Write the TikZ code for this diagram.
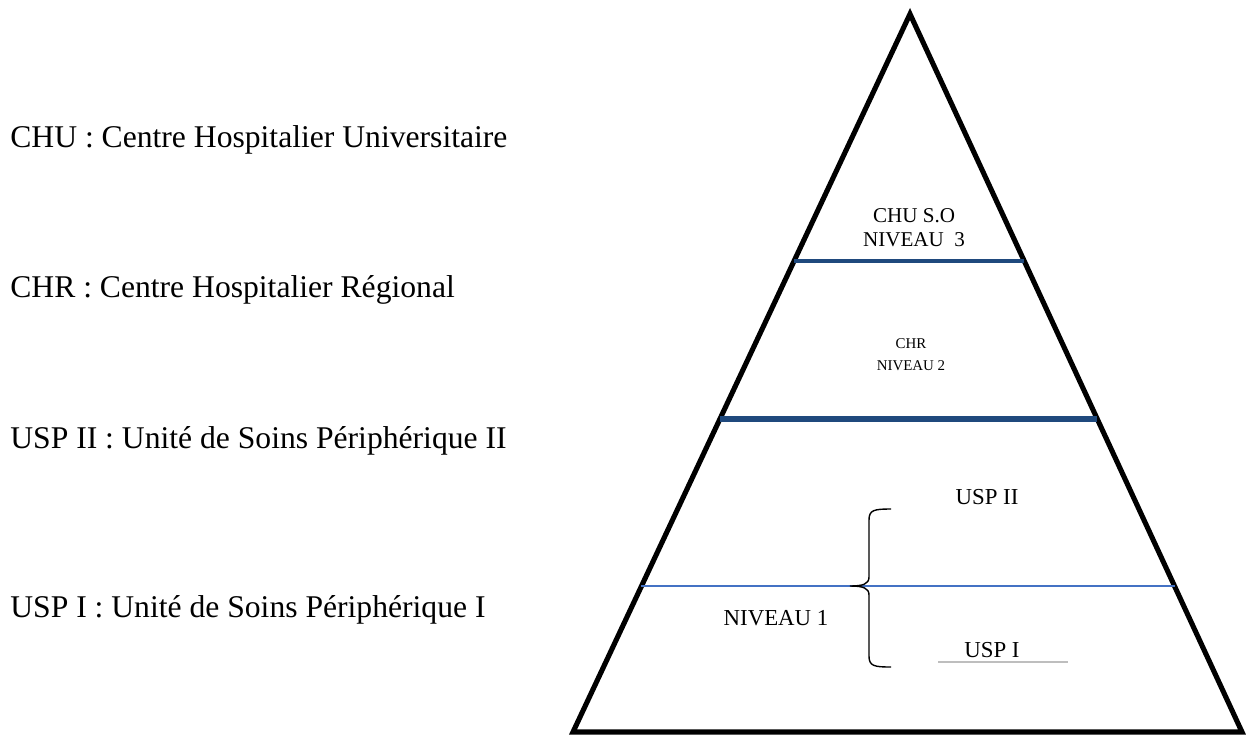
\documentclass[tikz,border=0pt]{standalone}
\usepackage{fontspec}
\setmainfont{Liberation Serif}
\usetikzlibrary{calc}
\definecolor{lvDarkBlue}{RGB}{31,73,125}
\definecolor{lvBlue}{RGB}{68,114,196}
\definecolor{lvGrey}{RGB}{190,190,190}
\tikzset{
    legend/.style={right,inner sep=0pt,font=\fontsize{18}{20}\selectfont},
    tag/.style={align=center,inner sep=0pt,font=\fontsize{13}{15}\selectfont},
    layer/.style={line width=2.8pt,color=lvDarkBlue},
    rim/.style={line width=2.9pt,line join=miter}
}
\newcommand{\NIV}[1]{NIVEAU #1}

\begin{document}
\begin{tikzpicture}[x=0.02cm,y=-0.02cm]
    \useasboundingbox (0,0) rectangle (1248,735);

    % legend on the left
    \node[legend] (chu) at (10,140) {CHU : Centre Hospitalier Universitaire};
    \node[legend] (chr) at (10,290) {CHR : Centre Hospitalier Régional};
    \node[legend] (uspb) at (10,441) {USP II : Unité de Soins Périphérique II};
    \node[legend] (uspa) at (10,610) {USP I : Unité de Soins Périphérique I};

    % the pyramid
    \coordinate (apex) at (910,14);
    \coordinate (baseL) at (573,732);
    \coordinate (baseR) at (1242,732);
    \draw[rim] (apex) -- (baseL) -- (baseR) -- cycle;

    \draw[layer] ($(apex)!0.344!(baseL)$) -- ($(apex)!0.344!(baseR)$);
    \draw[layer,line width=3pt] ($(apex)!0.564!(baseL)$) -- ($(apex)!0.564!(baseR)$);
    \draw[lvBlue,line width=0.9pt] ($(apex)!0.797!(baseL)$) -- ($(apex)!0.797!(baseR)$);

    \node[tag,font=\fontsize{12}{13.8}\selectfont] (lvlc) at (914,228) {CHU S.O\\\NIV{\ 3}};
    \node[tag,font=\fontsize{8.5}{12.5}\selectfont] (lvlb) at (911,355) {CHR\\\NIV{2}};

    \node[tag] (uspII) at (987,497) {USP II};
    \node[tag] (lvla) at (776,618) {\NIV{1}};
    \node[tag] (uspI) at (992,650) {USP I};

    % brace over level 1
    \draw[line width=0.8pt] (891,509) .. controls (874,509) and (869,510) .. (869,520)
        -- (869,577) .. controls (869,584) and (863,586) .. (850,586)
        .. controls (863,586) and (869,588) .. (869,595)
        -- (869,656) .. controls (869,666) and (874,667) .. (891,667);
    \draw[lvGrey,line width=0.6pt] (938,662) -- (1068,662);
\end{tikzpicture}
\end{document}
